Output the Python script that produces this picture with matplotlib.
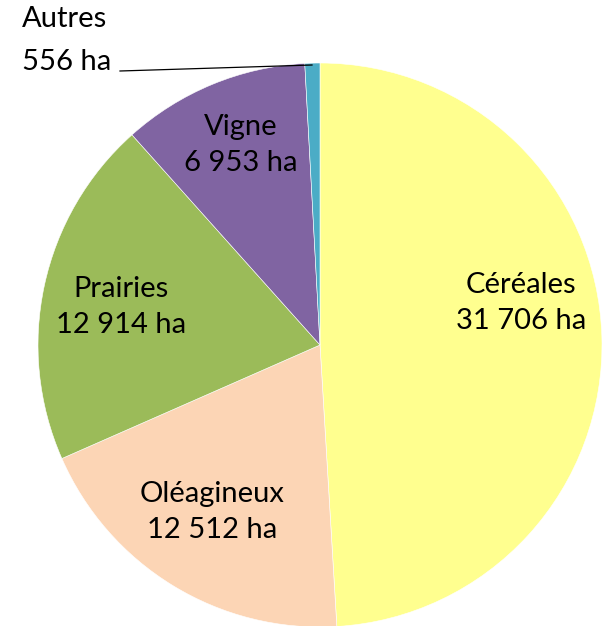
import matplotlib.pyplot as plt

# Surfaces agricoles (ha)
categories = ['Céréales', 'Oléagineux', 'Prairies', 'Vigne', 'Autres']
surfaces = [31706, 12512, 12914, 6953, 556]
colors = ['#FFFF8F', '#FCD5B5', '#9BBB59', '#8064A2', '#4BACC6']


def fmt_ha(v):
    # French thousands separator
    return f'{v:,}'.replace(',', ' ') + ' ha'


W, H = 608, 626
fig = plt.figure(figsize=(W / 100, H / 100), dpi=100)
ax = fig.add_axes([0, 0, 1, 1])

cx, cy, r = 320, H - 345, 282
ax.pie(surfaces, colors=colors, startangle=90, counterclock=False,
       center=(cx, cy), radius=r, frame=True,
       wedgeprops=dict(edgecolor='white', linewidth=0.4))
ax.set_xlim(0, W)
ax.set_ylim(0, H)
ax.axis('off')

font = dict(family=['Lato', 'DejaVu Sans'], fontsize=21, color='black')

# label positions (pixel coords from the top-left), one per slice
label_pos = {
    'Céréales': (521, 303),
    'Oléagineux': (212, 512),
    'Prairies': (121, 307),
    'Vigne': (241, 145),
}
for name, val in zip(categories, surfaces):
    if name in label_pos:
        x, y = label_pos[name]
        ax.text(x, H - y, f'{name}\n{fmt_ha(val)}', ha='center', va='center',
                linespacing=1.5, **font)

# Autres: label outside with leader line
ax.text(22, H - 19, categories[4], ha='left', va='center', **font)
ax.text(22, H - 62, fmt_ha(surfaces[4]), ha='left', va='center', **font)
ax.plot([120, 312], [H - 71, H - 65], color='black', linewidth=0.9)

fig.savefig('out.png', dpi=100)
